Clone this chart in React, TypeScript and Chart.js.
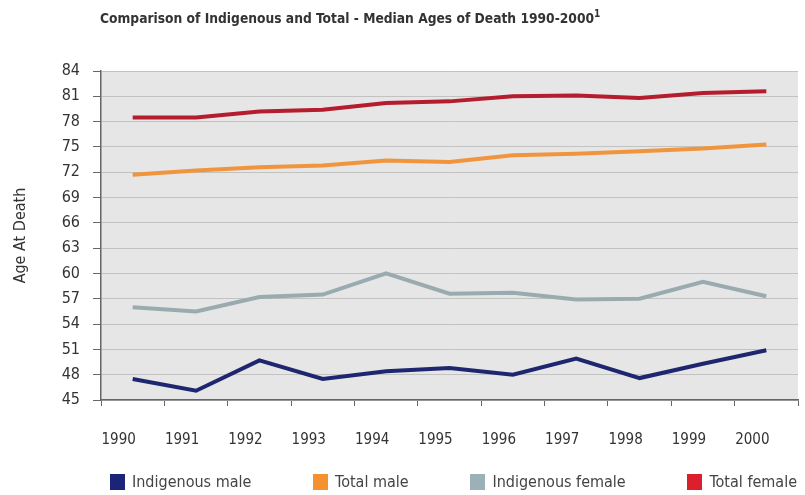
import React, { useEffect, useRef } from "react";
import { Chart, registerables } from "chart.js";

Chart.register(...registerables);

const years = ["1990", "1991", "1992", "1993", "1994", "1995", "1996", "1997", "1998", "1999", "2000"];
const indigenousMale = [47.5, 46.1, 49.7, 47.5, 48.4, 48.8, 48.0, 49.9, 47.6, 49.3, 50.9];
const totalMale = [71.7, 72.2, 72.6, 72.8, 73.4, 73.2, 74.0, 74.2, 74.5, 74.8, 75.3];
const indigenousFemale = [56.0, 55.5, 57.2, 57.5, 60.0, 57.6, 57.7, 56.9, 57.0, 59.0, 57.3];
const totalFemale = [78.5, 78.5, 79.2, 79.4, 80.2, 80.4, 81.0, 81.1, 80.8, 81.4, 81.6];

const FONT = "'Liberation Sans Narrow', 'DejaVu Sans Condensed', 'Liberation Sans', sans-serif";

const series = [
  { label: "Indigenous male", data: indigenousMale, line: "#1f2670", box: "#1c2478" },
  { label: "Total male", data: totalMale, line: "#f0953e", box: "#f5922f" },
  { label: "Indigenous female", data: indigenousFemale, line: "#9aabb0", box: "#9db0b7" },
  { label: "Total female", data: totalFemale, line: "#b51c2d", box: "#d9202c" },
];

// Light grey panel behind the plotting area
const plotBackground = {
  id: "plotBackground",
  beforeDraw(chart: any) {
    const { ctx, chartArea } = chart;
    ctx.save();
    ctx.fillStyle = "#e6e6e6";
    ctx.fillRect(chartArea.left, chartArea.top, chartArea.right - chartArea.left, chartArea.bottom - chartArea.top);
    ctx.restore();
  },
};

export default function App() {
  const canvasRef = useRef<HTMLCanvasElement>(null);

  useEffect(() => {
    if (!canvasRef.current) return;
    const chart = new Chart(canvasRef.current, {
      type: "line",
      data: {
        labels: years,
        datasets: series.map((s) => ({
          label: s.label,
          data: s.data,
          borderColor: s.line,
          backgroundColor: s.box,
          borderWidth: 4,
          pointRadius: 0,
          tension: 0,
        })),
      },
      plugins: [plotBackground],
      options: {
        animation: false,
        responsive: false,
        layout: { padding: { left: 0, right: 7, top: 71, bottom: 0 } },
        plugins: {
          legend: { display: false },
          tooltip: { enabled: false },
        },
        scales: {
          x: {
            offset: true,
            afterFit: (scale: any) => {
              scale.height = 95;
              scale.paddingRight = 0;
              scale.paddingLeft = 0;
            },
            grid: { display: true, drawOnChartArea: false, offset: true, tickLength: 6, color: "#666" },
            border: { display: true, color: "#666", width: 1.5 },
            ticks: { color: "#333", font: { family: FONT, size: 15 }, padding: 25, labelOffset: -14, maxRotation: 0 },
          },
          y: {
            min: 45,
            max: 84,
            afterFit: (scale: any) => {
              scale.width = 101;
            },
            grid: { color: "#c2c2c2", lineWidth: 1, tickLength: 8, tickColor: "#666" },
            border: { display: true, color: "#666", width: 1.5 },
            ticks: { stepSize: 3, color: "#333", font: { family: FONT, size: 16 }, padding: 13 },
            title: {
              display: true,
              text: "Age At Death",
              color: "#333",
              font: { family: FONT, size: 16 },
              padding: { top: 11, bottom: 0 },
            },
          },
        },
      },
    });
    return () => chart.destroy();
  }, []);

  return (
    <div style={{ position: "fixed", left: 0, top: 0, width: 805, height: 495, background: "#fff" }}>
      <canvas ref={canvasRef} width={805} height={495} />
      <div
        style={{
          position: "absolute",
          left: 100,
          top: 8,
          fontFamily: FONT,
          fontWeight: "bold",
          fontSize: 13.7,
          color: "#333",
          whiteSpace: "nowrap",
        }}
      >
        Comparison of Indigenous and Total - Median Ages of Death 1990-2000<sup style={{ fontSize: 10 }}>1</sup>
      </div>
      <div
        style={{
          position: "absolute",
          left: 110,
          right: 8,
          top: 472,
          display: "flex",
          justifyContent: "space-between",
          fontFamily: FONT,
          fontSize: 16,
          color: "#444",
        }}
      >
        {series.map((s) => (
          <div key={s.label} style={{ display: "flex", alignItems: "center", whiteSpace: "nowrap" }}>
            <span style={{ display: "inline-block", width: 15, height: 16, background: s.box, marginRight: 7 }} />
            <span>{s.label}</span>
          </div>
        ))}
      </div>
    </div>
  );
}
